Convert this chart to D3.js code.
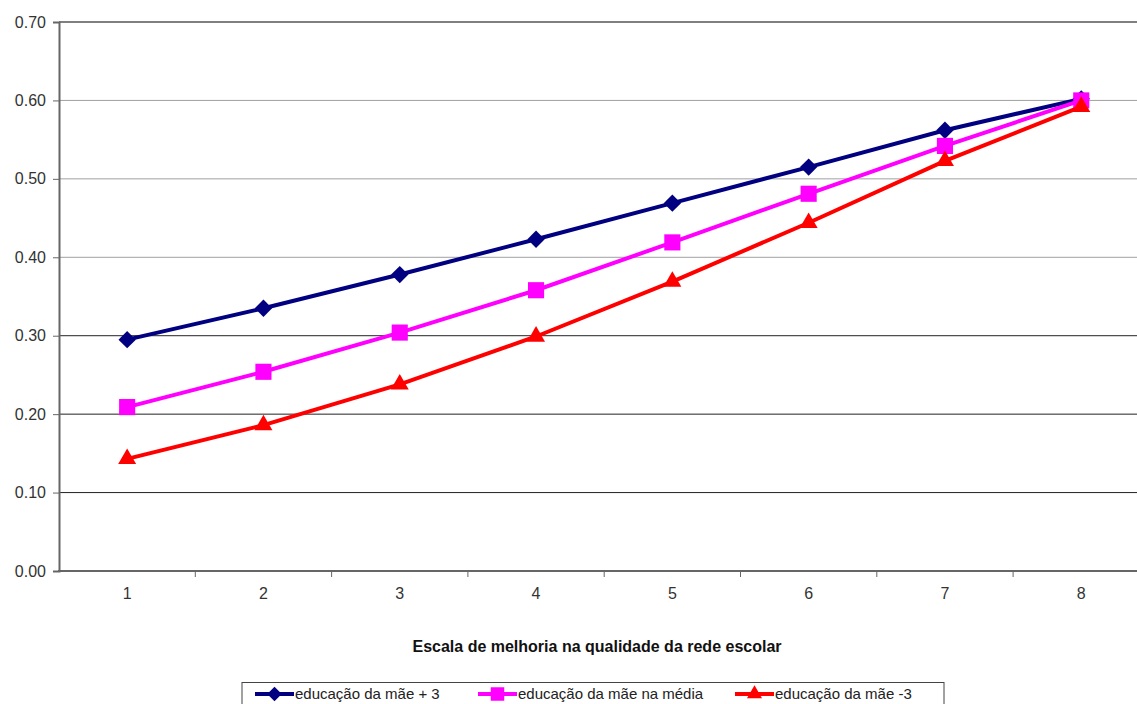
<!DOCTYPE html>
<html><head><meta charset="utf-8">
<script src="https://cdn.jsdelivr.net/npm/d3@7"></script>
<style>body{margin:0;background:#fff}svg{display:block;font-family:"Liberation Sans",Arial,sans-serif}</style>
</head><body>
<svg id="c" width="1137" height="704"></svg>
<script>
const categories = ["1","2","3","4","5","6","7","8"];
const yTicks = [0,0.1,0.2,0.3,0.4,0.5,0.6,0.7];
const seriesNames = ["educação da mãe + 3","educação da mãe na média","educação da mãe -3"];
const serMais3 = [0.295,0.335,0.378,0.423,0.469,0.515,0.562,0.602];
const serMedia = [0.209,0.254,0.304,0.358,0.419,0.481,0.542,0.600];
const serMenos3 = [0.143,0.186,0.238,0.299,0.369,0.444,0.523,0.592];
const xTitle = "Escala de melhoria na qualidade da rede escolar";

const svg = d3.select("#c");
const L = 59, T = 22, B = 571, band = 136.3;
const x = d3.scaleBand().domain(categories).range([L, L + band*categories.length]);
const y = d3.scaleLinear().domain([0,0.7]).range([B, T]);
const FF = "Liberation Sans, Arial, sans-serif";

// gridlines
svg.append("g").selectAll("line").data(yTicks.filter(d=>d>0)).join("line")
  .attr("x1", L).attr("x2", 1137).attr("y1", d=>y(d)).attr("y2", d=>y(d))
  .attr("stroke", d => d>=0.65 ? "#808080" : (d>=0.35 ? "#a0a0a0" : "#222"))
  .attr("stroke-width", d => d>=0.65 ? 2 : 1);

// y axis
const ya = svg.append("g").attr("transform",`translate(${L},0)`)
  .call(d3.axisLeft(y).tickValues(yTicks).tickFormat(d3.format(".2f")).tickSize(6).tickPadding(7));
ya.select(".domain").attr("stroke","#666").attr("stroke-width",2);
ya.selectAll(".tick line").attr("stroke","#666");
ya.selectAll("text").attr("font-size",16).attr("fill","#333").attr("font-family",FF);

// x axis
const xa = svg.append("g").attr("transform",`translate(0,${B})`)
  .call(d3.axisBottom(x).tickSize(0).tickPadding(17));
xa.select(".domain").remove();
xa.selectAll("text").attr("font-size",16).attr("fill","#333").attr("font-family",FF);
svg.append("line").attr("x1",L-1).attr("x2",1137).attr("y1",B).attr("y2",B).attr("stroke","#666").attr("stroke-width",2);
svg.append("g").selectAll("line").data(categories.slice(1)).join("line")
  .attr("x1", d=>x(d)).attr("x2", d=>x(d)).attr("y1", B).attr("y2", B+6).attr("stroke","#666");

// x title
svg.append("text").attr("x", 597).attr("y", 652).attr("text-anchor","middle")
  .attr("font-weight","bold").attr("font-size",16).attr("fill","#111").text(xTitle);

const colors = ["#000080","#ff00ff","#ff0000"];
const shapes = [d3.symbolSquare, d3.symbolSquare, d3.symbolTriangle];
const rot = [45, 0, 0];
const sizes = [150, 260, 140];
const data = [serMais3, serMedia, serMenos3];
const cx = d => x(d) + x.bandwidth()/2;
const line = d3.line().x((d,i)=>cx(categories[i])).y(d=>y(d));

data.forEach((s,k)=>{
  const g = svg.append("g");
  g.append("path").attr("d", line(s)).attr("fill","none").attr("stroke",colors[k]).attr("stroke-width",4);
  g.selectAll("path.m").data(s).join("path").attr("class","m")
    .attr("transform",(d,i)=>`translate(${cx(categories[i])},${y(d)}) rotate(${rot[k]})`)
    .attr("d", d3.symbol().type(shapes[k]).size(sizes[k]))
    .attr("fill",colors[k]);
});

// legend
const lg = svg.append("g");
lg.append("rect").attr("x",242).attr("y",682.5).attr("width",702).attr("height",30)
  .attr("fill","#fff").attr("stroke","#444").attr("stroke-width",1);
const lineStarts = [255, 478, 735];
seriesNames.forEach((n,k)=>{
  const x0 = lineStarts[k], yy = 694;
  lg.append("line").attr("x1",x0).attr("x2",x0+39).attr("y1",yy).attr("y2",yy).attr("stroke",colors[k]).attr("stroke-width",4);
  lg.append("path").attr("transform",`translate(${x0+19.5},${yy}) rotate(${rot[k]})`)
    .attr("d", d3.symbol().type(shapes[k]).size(sizes[k]*0.7)).attr("fill",colors[k]);
  lg.append("text").attr("x",x0+40).attr("y",yy+5).attr("font-size",15).attr("fill","#222").text(n);
});
</script>
</body></html>
